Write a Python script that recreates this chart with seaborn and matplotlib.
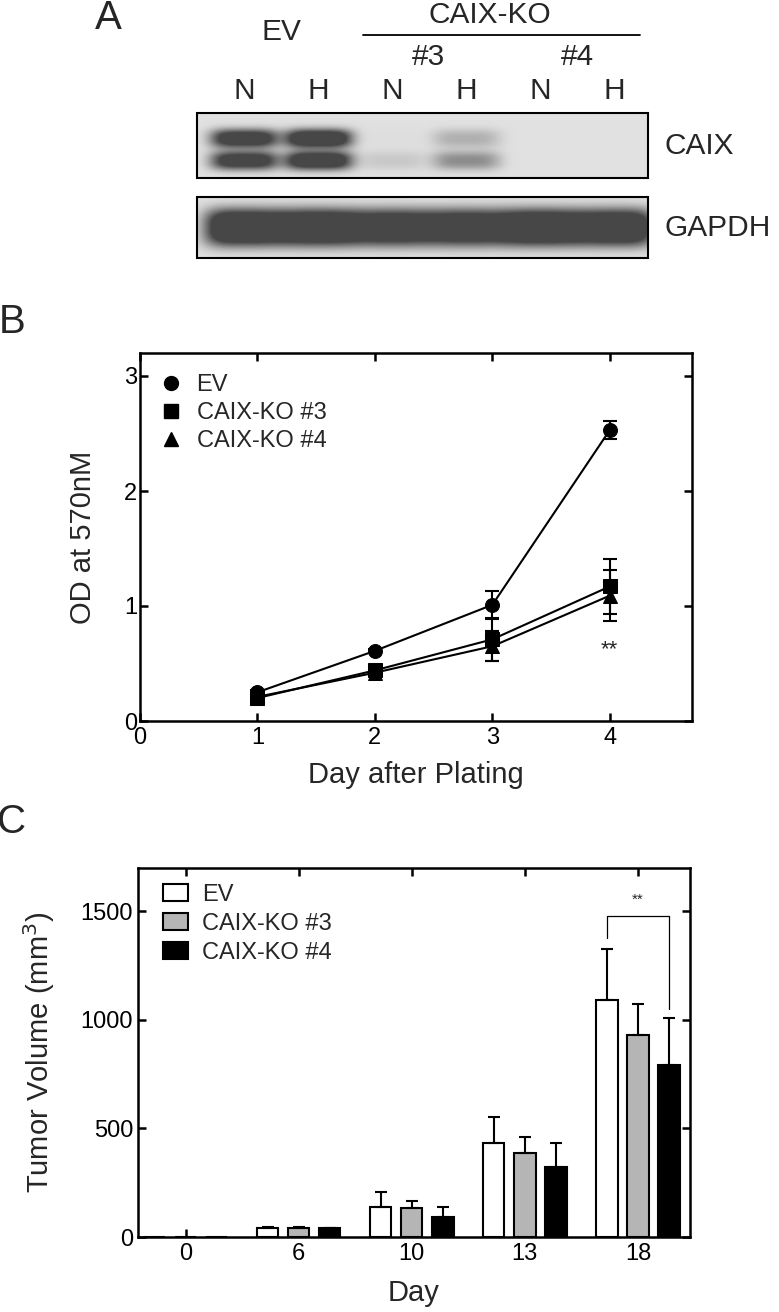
import numpy as np
import pandas as pd
import matplotlib
matplotlib.use('Agg')
import matplotlib.pyplot as plt
from matplotlib.patches import Rectangle, Patch
from matplotlib.lines import Line2D
import seaborn as sns

# ---- Panel A: western blot (relative band intensities per lane) ----
lane_labels = ['N', 'H', 'N', 'H', 'N', 'H']
clone_labels = ['#3', '#4']
caix_upper = [1.35, 1.5, 0.02, 0.32, 0.0, 0.0]
caix_lower = [1.3, 1.45, 0.16, 0.55, 0.0, 0.0]
gapdh_band = [1.6, 1.6, 1.45, 1.45, 1.6, 1.55]

# ---- Panel B: proliferation (OD at 570nM) ----
days_b = [1, 2, 3, 4]
od_ev = [0.25, 0.61, 1.01, 2.53]
od_ev_err = [0.02, 0.02, 0.12, 0.08]
od_ko3 = [0.20, 0.44, 0.71, 1.17]
od_ko3_err = [0.02, 0.03, 0.19, 0.24]
od_ko4 = [0.21, 0.42, 0.65, 1.09]
od_ko4_err = [0.02, 0.03, 0.13, 0.22]

# ---- Panel C: tumor volume ----
days_c = ['0', '6', '10', '13', '18']
vol_ev = [0, 40, 138, 431, 1094]
vol_ev_err = [0, 4, 68, 124, 232]
vol_ko3 = [0, 40, 133, 385, 931]
vol_ko3_err = [0, 4, 32, 74, 142]
vol_ko4 = [0, 40, 92, 321, 794]
vol_ko4_err = [0, 3, 46, 110, 215]

groups = ['EV', 'CAIX-KO #3', 'CAIX-KO #4']

sns.set_theme(style='ticks')
plt.rcParams['font.family'] = ['Liberation Sans', 'DejaVu Sans']

W, H = 779, 1312
fig = plt.figure(figsize=(W / 100, H / 100), dpi=100)


def style_axes(ax, pad_x, pad_y):
    for s in ax.spines.values():
        s.set_linewidth(1.8)
        s.set_color('black')
    ax.tick_params(direction='in', length=6, width=1.8, top=True, right=True,
                   labelsize=17, colors='black')
    ax.tick_params(axis='x', pad=pad_x)
    ax.tick_params(axis='y', pad=pad_y)


def band_image(rows, n_px_w, n_px_h, lane_x, half_w, half_h, sharp):
    # rows: list of (intensities, y centre); returns a grey image
    xs = np.arange(n_px_w)[None, :]
    ys = np.arange(n_px_h)[:, None]
    dark = np.zeros((n_px_h, n_px_w))
    for vals, yc in rows:
        for lx, v in zip(lane_x, vals):
            if v <= 0:
                continue
            px = np.exp(-np.abs((xs - lx) / half_w) ** 4)
            py = np.exp(-np.abs((ys - yc) / half_h) ** sharp)
            dark = dark + v * px * py
    dark = np.clip(dark, 0, 1)
    bg, fg = 0.88, 0.28
    return bg - (bg - fg) * dark


# ---------------- Panel A ----------------
ax_a = fig.add_axes([0, 1 - 270 / H, 1, 270 / H])
ax_a.set_xlim(0, W)
ax_a.set_ylim(270, 0)
ax_a.axis('off')

blot_l, blot_r = 197, 648
lane_x = [blot_l + 47 + 74 * i for i in range(len(lane_labels))]
rel_x = [x - blot_l for x in lane_x]

caix_img = band_image([(caix_upper, 25), (caix_lower, 47)], blot_r - blot_l, 65,
                      rel_x, 34, 9.5, 2.5)
gapdh_img = band_image([(gapdh_band, 30)], blot_r - blot_l, 61,
                       rel_x, 40, 19, 3)
ax_a.imshow(caix_img, cmap='gray', vmin=0, vmax=1, aspect='auto',
            extent=(blot_l, blot_r, 178, 113), interpolation='bilinear')
ax_a.imshow(gapdh_img, cmap='gray', vmin=0, vmax=1, aspect='auto',
            extent=(blot_l, blot_r, 258, 197), interpolation='bilinear')
for top, bot in [(113, 178), (197, 258)]:
    ax_a.add_patch(Rectangle((blot_l, top), blot_r - blot_l, bot - top,
                             fill=False, lw=1.5, ec='black'))

ax_a.text(108, 18, 'A', fontsize=29, ha='center', va='center')
ax_a.text((lane_x[0] + lane_x[1]) / 2, 32, 'EV', fontsize=21.5, ha='center', va='center')
ax_a.text(490, 15, 'CAIX-KO', fontsize=21.5, ha='center', va='center')
ax_a.plot([363, 640], [35, 35], color='black', lw=1.3)
for k, lab in enumerate(clone_labels):
    cx = (lane_x[2 + 2 * k] + lane_x[3 + 2 * k]) / 2
    ax_a.text(cx, 57, lab, fontsize=21.5, ha='center', va='center')
for x, lab in zip(lane_x, lane_labels):
    ax_a.text(x, 91, lab, fontsize=21.5, ha='center', va='center')
ax_a.text(665, 146, 'CAIX', fontsize=21.5, ha='left', va='center')
ax_a.text(665, 228, 'GAPDH', fontsize=21.5, ha='left', va='center')

# ---------------- Panel B ----------------
ax_b = fig.add_axes([140 / W, 1 - 721 / H, 552 / W, 368 / H])
df_b = pd.DataFrame({
    'day': days_b * 3,
    'od': od_ev + od_ko3 + od_ko4,
    'err': od_ev_err + od_ko3_err + od_ko4_err,
    'group': sum([[g] * len(days_b) for g in groups], []),
})
markers = {'EV': 'o', 'CAIX-KO #3': 's', 'CAIX-KO #4': '^'}
sns.lineplot(data=df_b, x='day', y='od', hue='group', style='group',
             hue_order=groups, style_order=groups,
             palette=['black'] * 3, markers=markers, dashes=False,
             markersize=10, markeredgecolor='black', linewidth=1.5,
             legend=False, ax=ax_b)
for g in groups:
    sub = df_b[df_b['group'] == g]
    ax_b.errorbar(sub['day'], sub['od'], yerr=sub['err'], fmt='none',
                  ecolor='black', elinewidth=1.5, capsize=5, capthick=1.5)
ax_b.text(4, 0.62, '**', fontsize=16, ha='center', va='center')
ax_b.set_xlim(0, 4.7)
ax_b.set_ylim(0, 3.2)
ax_b.set_xticks([0, 1, 2, 3, 4])
ax_b.set_yticks([0, 1, 2, 3])
style_axes(ax_b, 4.5, 2)
ax_b.set_xlabel('Day after Plating', fontsize=21)
ax_b.set_ylabel('OD at 570nM', fontsize=21)
ax_b.xaxis.set_label_coords(0.5, -0.109)
ax_b.yaxis.set_label_coords(-0.078, 0.5)
handles_b = [Line2D([], [], ls='none', marker=markers[g], color='black',
                    markersize=10) for g in groups]
ax_b.legend(handles_b, groups, loc='upper left', bbox_to_anchor=(0.034, 0.943),
            borderaxespad=0, borderpad=0, frameon=False, fontsize=17,
            handlelength=1.0, handletextpad=0.6, labelspacing=0.25)
fig.text(12 / W, 1 - 322 / H, 'B', fontsize=29, ha='center', va='center')

# ---------------- Panel C ----------------
ax_c = fig.add_axes([138 / W, 1 - 1237 / H, 552 / W, 369 / H])
df_c = pd.DataFrame({
    'day': days_c * 3,
    'vol': vol_ev + vol_ko3 + vol_ko4,
    'err': vol_ev_err + vol_ko3_err + vol_ko4_err,
    'group': sum([[g] * len(days_c) for g in groups], []),
})
bar_colors = ['white', '#b5b5b5', 'black']
sns.barplot(data=df_c, x='day', y='vol', hue='group', order=days_c,
            hue_order=groups, palette=bar_colors, edgecolor='black',
            linewidth=1.5, width=0.825, gap=0.31, errorbar=None,
            legend=False, ax=ax_c)
for cont, g in zip(ax_c.containers, groups):
    sub = df_c[df_c['group'] == g].set_index('day').loc[days_c]
    bars = sorted(cont.patches, key=lambda p: p.get_x())
    xs = [b.get_x() + b.get_width() / 2 for b in bars]
    keep = sub['vol'].values > 0
    xs = np.array(xs)[keep]
    ys = sub['vol'].values[keep]
    es = sub['err'].values[keep]
    ax_c.errorbar(xs, ys, yerr=[np.zeros_like(es), es], fmt='none',
                  ecolor='black', elinewidth=1.5, capsize=4, capthick=1.5,
                  zorder=1)

# significance bracket EV vs CAIX-KO #4 at day 18
b_ev = sorted(ax_c.containers[0].patches, key=lambda p: p.get_x())[-1]
b_k4 = sorted(ax_c.containers[2].patches, key=lambda p: p.get_x())[-1]
x1 = b_ev.get_x() + b_ev.get_width() / 2
x2 = b_k4.get_x() + b_k4.get_width() / 2
y_top = 1477
ax_c.plot([x1, x1, x2, x2],
          [vol_ev[-1] + vol_ev_err[-1] + 50, y_top, y_top,
           vol_ko4[-1] + vol_ko4_err[-1] + 40],
          color='black', lw=0.9)
ax_c.text((x1 + x2) / 2, y_top + 45, '**', fontsize=11, ha='center', va='bottom')

ax_c.set_xlim(-0.42, 4.46)
ax_c.set_ylim(0, 1700)
ax_c.set_yticks([0, 500, 1000, 1500])
style_axes(ax_c, 4, 3.5)
ax_c.set_xlabel('Day', fontsize=21)
ax_c.set_ylabel('Tumor Volume (mm$^3$)', fontsize=21)
ax_c.xaxis.set_label_coords(0.5, -0.114)
ax_c.yaxis.set_label_coords(-0.147, 0.5)
handles_c = [Patch(facecolor=c, edgecolor='black', linewidth=1.5) for c in bar_colors]
ax_c.legend(handles_c, groups, loc='upper left', bbox_to_anchor=(0.045, 0.957),
            borderaxespad=0, borderpad=0, frameon=False, fontsize=17,
            handlelength=1.06, handleheight=0.72, handletextpad=0.6,
            labelspacing=0.3)
fig.text(12 / W, 1 - 822 / H, 'C', fontsize=29, ha='center', va='center')

fig.savefig('out.png', dpi=100)
